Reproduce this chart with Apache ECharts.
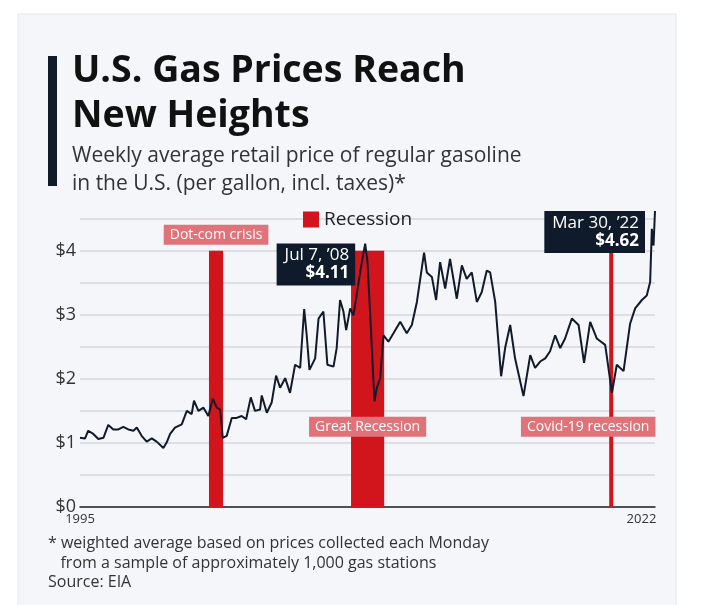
<!DOCTYPE html>
<html>
<head>
<meta charset="utf-8">
<script src="https://cdn.jsdelivr.net/npm/echarts@6/dist/echarts.min.js"></script>
<style>
	html, body { margin: 0; padding: 0; background: #fff; }
	#mychart { width: 704px; height: 605px; }
</style>
</head>
<body>
<div id="mychart"></div>
<script>
// weekly average retail price (decimal year, $/gallon)
var years = [
	1995.00, 1995.24, 1995.39, 1995.63, 1995.87, 1996.11, 1996.34, 1996.58, 1996.82, 1997.05,
	1997.29, 1997.53, 1997.69, 1997.92, 1998.16, 1998.40, 1998.63, 1998.95, 1999.11, 1999.27,
	1999.50, 1999.82, 2000.06, 2000.29, 2000.40, 2000.61, 2000.85, 2001.08, 2001.29, 2001.48,
	2001.64, 2001.76, 2001.95, 2002.19, 2002.42, 2002.66, 2002.87, 2003.09, 2003.29, 2003.53,
	2003.61, 2003.85, 2004.08, 2004.29, 2004.48, 2004.72, 2004.95, 2005.19, 2005.43, 2005.62,
	2005.74, 2005.87, 2006.14, 2006.30, 2006.53, 2006.72, 2007.01, 2007.16, 2007.32, 2007.48,
	2007.61, 2007.80, 2007.95, 2008.08, 2008.30, 2008.51, 2008.62, 2008.78, 2008.95, 2009.06,
	2009.22, 2009.38, 2009.61, 2009.85, 2010.17, 2010.48, 2010.72, 2010.96, 2011.30, 2011.43,
	2011.67, 2011.87, 2012.06, 2012.30, 2012.53, 2012.85, 2013.09, 2013.32, 2013.56, 2013.80,
	2014.03, 2014.27, 2014.43, 2014.67, 2014.95, 2015.14, 2015.38, 2015.61, 2016.01, 2016.33,
	2016.56, 2016.80, 2017.04, 2017.27, 2017.51, 2017.75, 2017.98, 2018.30, 2018.62, 2018.88,
	2019.17, 2019.48, 2019.88, 2020.20, 2020.43, 2020.75, 2021.06, 2021.30, 2021.62, 2021.85,
	2022.01, 2022.09, 2022.17, 2022.24
];
var prices = [
	1.08, 1.07, 1.19, 1.14, 1.06, 1.08, 1.28, 1.21, 1.21, 1.25,
	1.21, 1.19, 1.24, 1.11, 1.02, 1.07, 1.02, 0.92, 1.01, 1.14,
	1.24, 1.29, 1.50, 1.45, 1.66, 1.50, 1.55, 1.42, 1.69, 1.55,
	1.52, 1.08, 1.11, 1.39, 1.39, 1.42, 1.37, 1.71, 1.50, 1.52,
	1.74, 1.47, 1.63, 2.05, 1.86, 2.01, 1.78, 2.22, 2.17, 3.09,
	2.68, 2.14, 2.32, 2.94, 3.05, 2.22, 2.19, 2.48, 3.23, 3.05,
	2.76, 3.10, 2.99, 3.25, 3.72, 4.11, 3.82, 2.79, 1.65, 1.86,
	2.01, 2.68, 2.58, 2.71, 2.89, 2.71, 2.84, 3.20, 3.97, 3.66,
	3.59, 3.23, 3.82, 3.41, 3.87, 3.25, 3.77, 3.56, 3.66, 3.20,
	3.35, 3.69, 3.66, 3.20, 2.04, 2.48, 2.84, 2.32, 1.73, 2.37,
	2.17, 2.27, 2.32, 2.43, 2.68, 2.48, 2.63, 2.94, 2.84, 2.25,
	2.89, 2.63, 2.53, 1.78, 2.22, 2.12, 2.86, 3.10, 3.23, 3.30,
	3.51, 4.34, 4.08, 4.62
];
var recessions = [
	['Dot-com crisis', 2001.11, 2001.78],
	['Great Recession', 2007.84, 2009.41],
	['Covid-19 recession', 2020.07, 2020.26]
];
var highlights = [
	['Jul 7, \u201908', 2008.51, 4.11],
	['Mar 30, \u201922', 2022.24, 4.62]
];
var xTicks = [1995, 2021.6];

var font = 'Open Sans';
var navy = '#0f1b2a';
var red = '#d2141c';

var myChart = echarts.init(document.getElementById('mychart'));

var lineData = [];
for(var i = 0; i < years.length; i++) {
	lineData.push([years[i], prices[i]]);
}

var areas = [];
for(var i = 0; i < recessions.length; i++) {
	var off = [0, 48], pos = 'inside';
	if(i == 0) { pos = 'top'; off = [0, 0]; }
	if(i == 2) { off = [-23, 48]; }
	areas.push([{
		name: recessions[i][0],
		xAxis: recessions[i][1],
		yAxis: 0,
		label: { position: pos, offset: off, distance: 6 }
	}, {
		xAxis: recessions[i][2],
		yAxis: 4
	}]);
}

var points = [];
for(var i = 0; i < highlights.length; i++) {
	points.push({
		coord: [highlights[i][1], highlights[i][2]],
		value: highlights[i][2],
		name: highlights[i][0]
	});
}

var option = {
	backgroundColor: '#fff',
	textStyle: { fontFamily: font },
	animation: false,
	graphic: [
		{ type: 'rect', shape: { x: 18, y: 14, width: 658, height: 600 }, style: { fill: '#f4f6f9', stroke: '#e3e6ea' }, z: -10 },
		{ type: 'rect', shape: { x: 48, y: 56, width: 9, height: 130 }, style: { fill: navy } },
		{ type: 'text', left: 72, top: 49, style: { text: 'U.S. Gas Prices Reach\nNew Heights', font: 'bold 37.5px "Open Sans"', lineHeight: 45, fill: '#111' } },
		{ type: 'text', left: 72, top: 142, style: { text: 'Weekly average retail price of regular gasoline\nin the U.S. (per gallon, incl. taxes)*', font: '21px "Open Sans"', lineHeight: 28, fill: '#333' } },
		{ type: 'text', left: 48, top: 533, style: { text: '* weighted average based on prices collected each Monday\n   from a sample of approximately 1,000 gas stations', font: '16px "Open Sans"', lineHeight: 20, fill: '#333' } },
		{ type: 'text', left: 48, top: 574, style: { text: 'Source: EIA', font: '16px "Open Sans"', fill: '#333' } }
	],
	legend: {
		top: 205,
		left: 298,
		itemWidth: 16,
		itemHeight: 16,
		icon: 'rect',
		textStyle: { fontSize: 19, color: '#222' },
		data: ['Recession']
	},
	grid: { left: 80, right: 49, top: 209, bottom: 98 },
	xAxis: {
		type: 'value',
		min: 1995,
		max: 2022.24,
		splitLine: { show: false },
		axisTick: { show: false },
		axisLine: { lineStyle: { color: '#222', width: 1.5 } },
		axisLabel: {
			customValues: xTicks,
			color: '#333',
			fontSize: 13,
			margin: 6,
			formatter: function(v) { return v < 2000 ? '1995' : '2022'; }
		}
	},
	yAxis: {
		type: 'value',
		min: 0,
		max: 4.65,
		interval: 0.5,
		axisLine: { show: false },
		axisTick: { show: false },
		splitLine: { showMaxLine: false, lineStyle: { color: '#d3d6da', width: 1.5 } },
		axisLabel: {
			color: '#333',
			fontSize: 18,
			margin: 4,
			showMaxLabel: false,
			formatter: function(v) { return v % 1 == 0 ? '$' + v : ''; }
		}
	},
	series: [{
		name: 'Recession',
		type: 'line',
		color: red,
		data: [],
		markArea: {
			silent: true,
			itemStyle: { color: red, opacity: 1 },
			label: {
				color: '#fff',
				fontSize: 14,
				backgroundColor: '#e0737a',
				padding: [3, 6, 3, 6]
			},
			data: areas
		}
	}, {
		name: 'Price',
		type: 'line',
		data: lineData,
		showSymbol: false,
		symbol: 'none',
		z: 5,
		lineStyle: { color: '#111a2b', width: 2 },
		markPoint: {
			symbol: 'rect',
			symbolSize: 0,
			label: {
				show: true,
				position: 'left',
				distance: 10,
				align: 'right',
				verticalAlign: 'top',
				backgroundColor: navy,
				padding: [3, 6, 3, 8],
				formatter: function(p) {
					return '{a|' + p.name + '}\n{b|$' + p.value.toFixed(2) + '}';
				},
				rich: {
					a: { color: '#fff', fontSize: 17, align: 'right', lineHeight: 18 },
					b: { color: '#fff', fontSize: 17, fontWeight: 'bold', align: 'right', lineHeight: 18 }
				}
			},
			data: points
		}
	}]
};
myChart.setOption(option);
</script>
</body>
</html>
